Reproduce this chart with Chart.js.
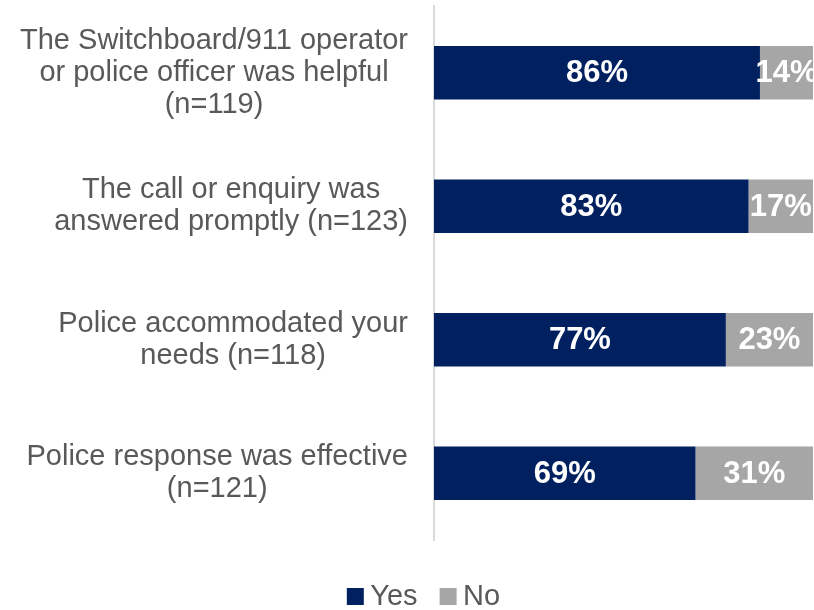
<!DOCTYPE html>
<html>
<head>
<meta charset="utf-8">
<script src="https://cdn.jsdelivr.net/npm/chart.js@4"></script>
<style>
    html, body { margin: 0; padding: 0; background: #fff; }
    .chart-box { width: 814px; height: 610px; position: relative; }
</style>
</head>
<body>
<div class="chart-box"><canvas id="ratingChart"></canvas></div>
<script>
const categories = [
    ['The Switchboard/911 operator', 'or police officer was helpful', '(n=119)'],
    ['The call or enquiry was', 'answered promptly (n=123)'],
    ['Police accommodated your', 'needs (n=118)'],
    ['Police response was effective', '(n=121)']
];
const yesValues = [86, 83, 77, 69];
const noValues = [14, 17, 23, 31];

const NAVY = '#002060';
const GREY = '#a6a6a6';
const TEXT = '#595959';
const FONT = '"Liberation Sans", Arial, sans-serif';

// category labels: each block centred on itself, block right-aligned next to the axis
const blockLabels = {
    id: 'blockLabels',
    afterDraw(chart) {
        const { ctx } = chart;
        const y = chart.scales.y;
        const right = chart.chartArea.left - 26;
        const lineH = 32;
        ctx.save();
        ctx.font = '29px ' + FONT;
        ctx.fillStyle = TEXT;
        ctx.textAlign = 'center';
        ctx.textBaseline = 'middle';
        categories.forEach((lines, i) => {
            const w = Math.max(...lines.map(l => ctx.measureText(l).width));
            const cx = right - w / 2;
            const cy = y.getPixelForTick(i);
            lines.forEach((l, j) => {
                ctx.fillText(l, cx, cy + (j - (lines.length - 1) / 2) * lineH);
            });
        });
        ctx.restore();
    }
};

// white percentage labels in the middle of each segment
const segmentLabels = {
    id: 'segmentLabels',
    afterDatasetsDraw(chart) {
        const { ctx } = chart;
        ctx.save();
        ctx.font = 'bold 31px ' + FONT;
        ctx.fillStyle = '#fff';
        ctx.textAlign = 'center';
        ctx.textBaseline = 'middle';
        chart.data.datasets.forEach((ds, di) => {
            chart.getDatasetMeta(di).data.forEach((bar, i) => {
                const p = bar.getCenterPoint();
                ctx.fillText(ds.data[i] + '%', p.x, p.y + 1);
            });
        });
        ctx.restore();
    }
};

new Chart(document.getElementById('ratingChart').getContext('2d'), {
    type: 'bar',
    data: {
        labels: categories,
        datasets: [
            { label: 'Yes', data: yesValues, backgroundColor: NAVY, borderWidth: 0 },
            { label: 'No', data: noValues, backgroundColor: GREY, borderWidth: 0 }
        ]
    },
    options: {
        indexAxis: 'y',
        responsive: true,
        maintainAspectRatio: false,
        animation: false,
        layout: { padding: { top: 6, right: 1, bottom: -11, left: 42 } },
        datasets: { bar: { categoryPercentage: 1, barPercentage: 0.4 } },
        plugins: {
            legend: {
                position: 'bottom',
                labels: {
                    // square markers sit tight against their text
                    usePointStyle: true,
                    pointStyle: 'rect',
                    boxWidth: 1,
                    boxHeight: 17,
                    padding: 30,
                    color: TEXT,
                    font: { family: FONT, size: 29 }
                }
            },
            tooltip: { enabled: false }
        },
        scales: {
            x: {
                stacked: true,
                min: 0,
                max: 100,
                grid: { display: false },
                border: { display: false },
                ticks: { display: false },
                afterFit: s => { s.height = 12; }
            },
            y: {
                stacked: true,
                grid: { display: false },
                border: { color: '#d9d9d9', width: 2 },
                ticks: { display: false },
                afterFit: s => { s.width = 392; }
            }
        }
    },
    plugins: [blockLabels, segmentLabels]
});
</script>
</body>
</html>
